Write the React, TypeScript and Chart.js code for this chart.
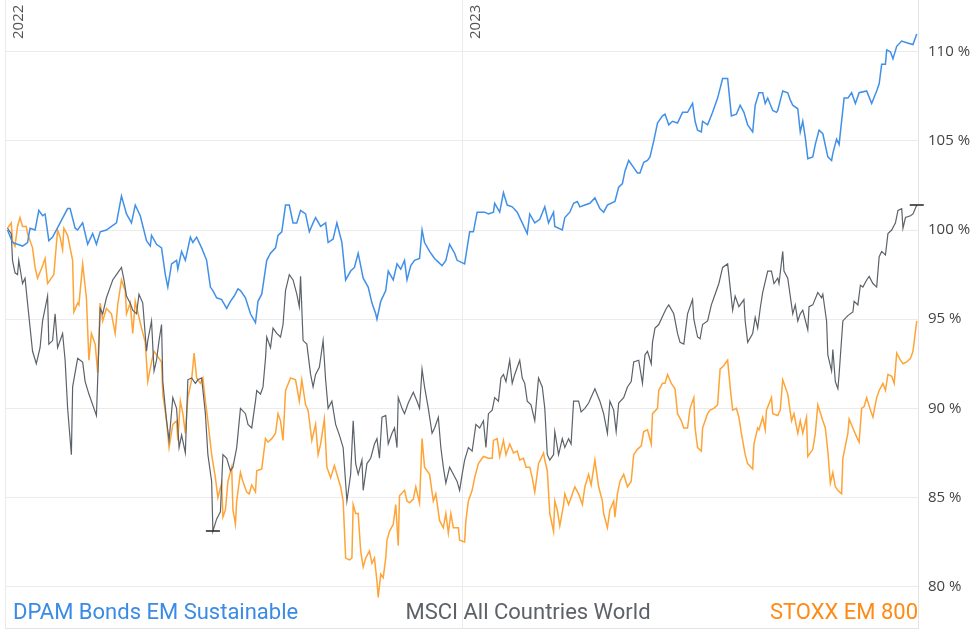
import React, { useEffect, useRef } from "react";
import { Chart, registerables } from "chart.js";

Chart.register(...registerables);

// x values are days counted from 1 January 2022
const yearTicks = [0, 365];
const yearLabels = ["2022", "2023"];
const xMax = 729;
const yMin = 77.68;
const yMax = 112.9;
const seriesNames = ["DPAM Bonds EM Sustainable", "MSCI All Countries World", "STOXX EM 800"];

const dpamDays = [
  2, 6, 10, 14, 18, 20, 24, 27, 30, 32,
  35, 38, 44, 50, 52, 56, 58, 62, 66, 70,
  73, 76, 81, 85, 89, 93, 97, 101, 104, 108,
  113, 116, 117, 121, 125, 128, 130, 133, 137, 138,
  141, 144, 148, 150, 153, 157, 161, 164, 166, 169,
  173, 177, 180, 183, 186, 188, 192, 196, 200, 202,
  205, 209, 212, 216, 218, 221, 224, 227, 230, 233,
  236, 240, 243, 246, 248, 252, 256, 258, 262, 265,
  269, 272, 276, 279, 282, 286, 290, 293, 296, 297,
  300, 304, 306, 310, 313, 316, 319, 321, 324, 327,
  331, 333, 335, 339, 343, 346, 349, 352, 355, 359,
  361, 367, 369, 371, 374, 377, 383, 386, 390, 391,
  395, 398, 401, 405, 409, 413, 417, 419, 423, 427,
  431, 434, 438, 439, 445, 447, 451, 454, 457, 459,
  463, 467, 471, 475, 478, 481, 487, 490, 493, 495,
  498, 501, 505, 507, 510, 513, 515, 518, 521, 525,
  527, 530, 533, 537, 541, 545, 549, 551, 553, 556,
  557, 561, 565, 569, 573, 577, 580, 584, 587, 590,
  593, 597, 599, 602, 605, 607, 609, 613, 616, 617,
  621, 625, 627, 629, 633, 635, 637, 639, 641, 645,
  647, 650, 653, 657, 660, 661, 664, 666, 670, 673,
  676, 679, 682, 688, 692, 696, 698, 700, 703, 704,
  707, 709, 712, 716, 720, 725, 728,
];
const dpamValues = [
  100.0, 99.3, 99.2, 99.1, 99.3, 100.1, 100.0, 101.1, 100.8, 100.9,
  99.4, 99.6, 100.4, 101.2, 101.2, 100.1, 100.0, 100.4, 99.2, 99.8,
  99.2, 99.9, 100.0, 100.2, 100.4, 101.9, 100.9, 100.4, 101.4, 100.8,
  99.4, 99.1, 99.7, 99.2, 99.0, 97.5, 96.8, 98.1, 98.3, 97.8,
  98.8, 98.3, 99.6, 99.3, 99.6, 99.0, 98.3, 96.8, 96.6, 96.2,
  96.1, 95.6, 96.0, 96.3, 96.7, 96.6, 96.2, 95.3, 94.8, 96.0,
  96.4, 98.3, 98.7, 99.0, 99.7, 99.9, 101.4, 101.4, 100.4, 100.4,
  101.1, 100.9, 99.9, 100.4, 100.7, 100.2, 100.4, 99.3, 99.5, 100.4,
  99.3, 97.2, 97.7, 97.9, 98.7, 97.3, 96.8, 95.9, 95.3, 95.0,
  96.0, 96.6, 97.7, 97.2, 98.1, 97.8, 98.3, 97.2, 98.0, 98.3,
  98.4, 100.0, 99.3, 98.8, 98.4, 98.2, 98.0, 98.3, 99.2, 98.7,
  98.3, 98.1, 99.0, 99.9, 99.9, 101.0, 101.0, 100.9, 101.0, 101.5,
  101.0, 102.1, 101.4, 101.3, 101.0, 100.4, 99.8, 100.9, 100.4, 100.6,
  101.3, 100.4, 101.0, 100.2, 100.0, 100.7, 101.0, 101.5, 101.6, 101.3,
  101.4, 101.5, 101.8, 101.2, 101.0, 101.4, 101.6, 102.4, 102.6, 103.3,
  103.9, 103.6, 103.2, 103.2, 103.8, 103.9, 104.1, 105.0, 106.0, 106.4,
  106.5, 105.9, 106.1, 106.0, 106.6, 106.6, 107.1, 106.1, 105.6, 105.5,
  106.1, 105.9, 106.6, 107.4, 108.5, 108.5, 106.4, 106.5, 107.0, 106.6,
  105.9, 105.5, 107.0, 107.7, 107.7, 107.1, 107.4, 106.7, 106.6, 106.7,
  107.8, 107.7, 107.3, 107.0, 106.8, 105.5, 106.1, 105.2, 104.0, 104.1,
  104.8, 105.6, 105.4, 104.1, 103.9, 104.3, 105.1, 104.8, 107.4, 107.4,
  107.7, 107.1, 107.7, 107.8, 107.1, 107.8, 108.2, 109.3, 109.3, 110.1,
  110.0, 109.6, 110.3, 110.6, 110.5, 110.4, 111.0,
];

const msciDays = [
  2, 5, 6, 8, 10, 11, 14, 16, 18, 22,
  25, 28, 30, 34, 35, 38, 40, 42, 46, 48,
  50, 53, 54, 58, 62, 64, 67, 71, 73, 76,
  78, 81, 84, 86, 89, 93, 95, 97, 100, 102,
  105, 107, 110, 113, 114, 117, 119, 121, 123, 125,
  126, 129, 131, 134, 137, 139, 141, 144, 146, 149,
  152, 154, 157, 160, 162, 165, 166, 169, 172, 174,
  177, 180, 182, 185, 188, 192, 194, 197, 200, 201,
  204, 206, 208, 209, 212, 214, 217, 220, 222, 224,
  227, 230, 233, 235, 236, 238, 241, 244, 246, 248,
  251, 254, 256, 258, 261, 264, 267, 270, 273, 276,
  278, 280, 282, 285, 286, 289, 292, 295, 297, 299,
  301, 304, 306, 309, 311, 313, 314, 317, 319, 322,
  326, 329, 331, 333, 335, 338, 341, 343, 346, 348,
  350, 352, 355, 358, 361, 363, 365, 367, 370, 373,
  376, 379, 382, 384, 386, 389, 391, 394, 396, 398,
  400, 403, 405, 407, 411, 413, 415, 417, 420, 423,
  426, 429, 431, 433, 435, 438, 439, 442, 445, 447,
  450, 452, 454, 458, 460, 463, 466, 471, 475, 478,
  481, 483, 486, 488, 490, 494, 497, 500, 502, 506,
  509, 511, 513, 516, 517, 519, 522, 526, 528, 530,
  534, 537, 539, 542, 545, 549, 550, 553, 555, 557,
  561, 564, 567, 570, 573, 577, 579, 581, 583, 586,
  590, 591, 593, 597, 599, 601, 603, 605, 609, 612,
  614, 617, 618, 621, 622, 625, 629, 631, 633, 635,
  637, 641, 642, 645, 649, 652, 653, 656, 657, 660,
  661, 663, 665, 666, 669, 673, 677, 678, 681, 683,
  685, 688, 690, 693, 696, 698, 700, 703, 705, 708,
  711, 713, 716, 717, 719, 723, 725, 728,
];
const msciValues = [
  100.1, 99.8, 98.3, 97.6, 97.5, 98.3, 97.0, 97.3, 95.9, 93.2,
  92.5, 93.4, 94.9, 96.3, 93.6, 93.8, 95.3, 93.4, 94.2, 92.7,
  90.0, 87.4, 91.2, 92.8, 92.6, 91.5, 90.8, 90.0, 89.6, 95.6,
  95.3, 96.2, 96.8, 97.2, 97.5, 97.9, 97.2, 96.3, 95.9, 95.5,
  95.3, 96.4, 95.9, 93.2, 93.8, 94.9, 92.1, 92.7, 93.8, 94.7,
  91.5, 89.3, 88.2, 90.6, 90.0, 87.8, 88.5, 87.5, 91.6, 91.7,
  91.4, 91.6, 91.7, 89.7, 87.4, 85.9, 83.1, 83.8, 84.2, 87.4,
  87.2, 86.5, 86.7, 87.8, 90.0, 89.7, 89.1, 88.9, 90.4, 91.0,
  90.8, 91.2, 92.8, 94.0, 93.4, 94.5, 94.2, 94.0, 94.7, 96.6,
  97.5, 97.2, 96.4, 95.7, 97.4, 93.8, 93.6, 91.9, 91.2, 91.9,
  92.3, 93.8, 91.6, 90.0, 90.4, 89.1, 88.5, 87.8, 84.8, 86.3,
  89.3, 86.9, 86.3, 87.1, 85.4, 86.9, 87.2, 88.0, 88.3, 87.2,
  89.5, 89.6, 88.0, 88.6, 88.9, 87.8, 90.6, 90.0, 89.7, 90.3,
  90.9, 90.4, 90.0, 92.2, 91.2, 90.0, 88.6, 88.9, 89.5, 87.8,
  86.7, 85.8, 86.7, 86.3, 85.9, 85.4, 86.3, 87.1, 87.8, 87.6,
  89.1, 88.9, 89.3, 87.8, 89.7, 89.9, 90.6, 90.4, 91.7, 91.9,
  91.5, 92.7, 91.4, 91.9, 92.7, 91.7, 91.4, 90.4, 90.2, 89.3,
  91.7, 91.2, 90.0, 87.4, 87.1, 87.4, 88.7, 87.4, 88.3, 87.8,
  88.3, 88.0, 90.4, 90.4, 89.8, 90.0, 90.3, 91.1, 90.4, 89.7,
  88.6, 90.4, 89.9, 88.7, 90.3, 90.6, 91.2, 91.5, 92.6, 92.7,
  91.4, 93.0, 93.2, 92.5, 93.7, 94.5, 94.7, 95.3, 95.6, 95.8,
  95.3, 94.2, 93.7, 93.6, 95.3, 96.1, 95.0, 94.0, 93.9, 94.7,
  94.9, 95.8, 96.4, 97.0, 97.9, 98.1, 96.8, 95.5, 96.3, 95.7,
  96.1, 94.9, 93.7, 94.2, 95.1, 94.5, 95.6, 96.5, 97.7, 97.7,
  97.0, 97.3, 97.0, 98.8, 97.7, 97.3, 95.3, 95.8, 94.9, 95.3,
  95.5, 94.4, 95.7, 95.8, 96.5, 96.2, 96.4, 94.9, 93.0, 92.1,
  93.3, 91.5, 91.1, 91.9, 94.9, 95.2, 95.4, 96.0, 95.8, 96.9,
  96.8, 97.2, 97.4, 97.0, 96.8, 98.5, 98.8, 98.6, 99.8, 100.0,
  100.4, 101.1, 101.2, 100.1, 100.7, 100.8, 100.9, 101.4,
];

const stoxxDays = [
  2, 5, 6, 8, 10, 12, 14, 17, 18, 22,
  24, 26, 30, 32, 34, 38, 39, 42, 44, 46,
  47, 50, 54, 55, 58, 59, 62, 65, 67, 69,
  72, 74, 76, 78, 81, 85, 88, 90, 93, 96,
  97, 100, 102, 104, 106, 109, 112, 114, 117, 119,
  122, 125, 126, 129, 131, 134, 137, 138, 140, 142,
  144, 146, 149, 151, 153, 156, 158, 160, 162, 165,
  168, 170, 173, 174, 176, 178, 181, 182, 184, 185,
  188, 190, 193, 195, 197, 200, 201, 205, 208, 210,
  213, 216, 218, 220, 222, 224, 228, 232, 235, 237,
  240, 242, 245, 248, 250, 252, 255, 257, 260, 263,
  265, 268, 270, 272, 275, 277, 278, 280, 282, 284,
  286, 288, 291, 293, 295, 297, 298, 300, 302, 304,
  305, 307, 310, 312, 314, 315, 319, 321, 323, 326,
  328, 331, 333, 335, 339, 342, 344, 347, 350, 352,
  354, 356, 358, 362, 363, 367, 368, 370, 373, 375,
  378, 382, 386, 389, 390, 393, 395, 398, 400, 403,
  406, 409, 411, 414, 416, 419, 421, 423, 426, 430,
  431, 433, 435, 438, 439, 441, 443, 446, 447, 450,
  453, 455, 458, 461, 463, 466, 468, 471, 474, 477,
  478, 481, 483, 486, 487, 489, 491, 494, 497, 500,
  502, 505, 508, 510, 513, 516, 517, 521, 522, 525,
  527, 529, 532, 535, 537, 540, 542, 545, 547, 550,
  551, 553, 556, 557, 561, 563, 566, 569, 571, 574,
  577, 579, 581, 584, 586, 588, 591, 593, 597, 598,
  601, 602, 605, 607, 608, 612, 613, 617, 619, 621,
  625, 628, 630, 633, 635, 637, 640, 641, 645, 647,
  649, 653, 655, 657, 659, 661, 663, 665, 668, 669,
  673, 674, 677, 680, 682, 684, 686, 688, 691, 693,
  696, 698, 701, 703, 705, 708, 710, 712, 715, 717,
  720, 723, 725, 728,
];
const stoxxValues = [
  100.1, 100.4, 99.4, 99.1, 100.2, 100.7, 100.2, 100.2, 99.8, 99.0,
  97.9, 97.3, 98.0, 98.4, 97.0, 97.4, 97.5, 100.0, 99.6, 98.9,
  100.1, 99.7, 98.3, 95.4, 95.9, 95.8, 98.1, 96.2, 92.7, 94.2,
  93.6, 92.0, 95.9, 94.9, 95.6, 95.3, 94.2, 95.8, 97.2, 96.6,
  95.3, 95.9, 94.2, 96.0, 95.4, 94.5, 93.7, 91.5, 92.6, 93.2,
  92.9, 92.6, 90.8, 89.3, 87.8, 89.1, 89.3, 88.2, 90.4, 89.7,
  88.6, 90.6, 91.6, 93.1, 91.7, 91.4, 91.7, 90.4, 89.3, 87.4,
  86.1, 85.0, 85.8, 83.9, 84.3, 85.9, 86.7, 84.3, 83.5, 84.8,
  86.4, 85.9, 85.3, 85.2, 85.7, 85.3, 86.5, 86.6, 88.3, 88.1,
  88.3, 88.6, 89.7, 89.3, 88.2, 91.0, 91.7, 91.6, 90.4, 91.6,
  90.2, 89.9, 88.2, 89.1, 87.4, 88.0, 89.4, 86.7, 86.1, 86.8,
  86.3, 85.6, 84.8, 81.6, 81.5, 81.6, 84.6, 84.1, 84.1, 82.0,
  81.1, 81.6, 82.0, 81.3, 81.6, 80.3, 79.4, 80.7, 80.5, 81.6,
  82.6, 83.1, 83.5, 84.6, 82.3, 85.1, 85.4, 84.8, 84.7, 84.9,
  85.6, 84.7, 88.3, 86.7, 86.3, 84.8, 85.2, 83.7, 83.3, 84.1,
  83.0, 84.1, 83.3, 83.3, 82.6, 82.5, 83.7, 84.8, 85.4, 86.1,
  86.9, 87.3, 87.2, 87.2, 88.2, 88.3, 87.3, 88.2, 87.4, 88.0,
  87.5, 87.6, 87.1, 87.2, 86.7, 86.7, 86.1, 85.3, 86.9, 87.5,
  87.1, 86.5, 84.1, 83.1, 84.8, 84.3, 83.4, 84.6, 85.2, 84.6,
  85.2, 85.6, 85.2, 84.6, 85.6, 86.3, 85.7, 87.1, 85.6, 84.8,
  84.1, 83.3, 84.3, 84.8, 83.9, 85.2, 85.9, 86.3, 85.6, 85.9,
  87.4, 87.7, 87.9, 88.7, 88.8, 88.0, 89.7, 90.0, 91.0, 91.4,
  91.4, 91.9, 91.4, 91.1, 89.7, 89.3, 88.9, 88.9, 90.0, 90.6,
  88.9, 87.8, 87.6, 88.9, 89.7, 89.9, 90.0, 90.2, 92.2, 92.4,
  92.7, 91.2, 89.9, 90.0, 89.5, 88.6, 87.4, 86.9, 86.6, 88.0,
  88.9, 88.8, 89.5, 88.8, 89.9, 90.6, 89.7, 89.6, 89.9, 91.6,
  90.8, 89.3, 89.7, 88.6, 89.3, 88.6, 89.5, 87.3, 87.7, 88.6,
  90.2, 89.3, 88.9, 87.6, 85.8, 86.4, 85.6, 85.4, 85.2, 87.2,
  88.6, 89.4, 88.9, 88.4, 88.1, 90.0, 90.1, 90.6, 89.9, 89.5,
  90.6, 91.0, 91.4, 91.0, 91.9, 91.8, 91.4, 93.1, 92.7, 92.5,
  92.6, 92.8, 93.2, 94.9,
];

const lineColors = ["#4190e8", "#5b6269", "#ffa436"];
const textColors = ["#3a8be6", "#5d6268", "#ff8a14"];

const toPoints = (days: number[], values: number[]) =>
  days.map((d, i) => ({ x: d, y: values[i] }));

const yearLabelPlugin = {
  id: "yearLabels",
  afterDraw(chart: any) {
    const xs = chart.scales.x;
    const ctx = chart.ctx;
    ctx.save();
    ctx.font = "15px 'Open Sans', sans-serif";
    ctx.fillStyle = "#555";
    ctx.textAlign = "left";
    ctx.textBaseline = "alphabetic";
    yearTicks.forEach((v, i) => {
      const px = xs.getPixelForValue(v);
      ctx.save();
      ctx.translate(px + 17.5, 39);
      ctx.rotate(-Math.PI / 2);
      ctx.fillText(yearLabels[i], 0, 0);
      ctx.restore();
    });
    ctx.restore();
  },
};

const minMaxPlugin = {
  id: "minMaxMarkers",
  afterDatasetsDraw(chart: any) {
    const xs = chart.scales.x;
    const ys = chart.scales.y;
    let minI = 0;
    let maxI = 0;
    msciValues.forEach((v, i) => {
      if (v < msciValues[minI]) minI = i;
      if (v > msciValues[maxI]) maxI = i;
    });
    const ctx = chart.ctx;
    ctx.save();
    ctx.strokeStyle = "#222";
    ctx.lineWidth = 1.5;
    [minI, maxI].forEach((i) => {
      const px = xs.getPixelForValue(msciDays[i]);
      const py = Math.round(ys.getPixelForValue(msciValues[i]));
      ctx.beginPath();
      ctx.moveTo(px - 7, py);
      ctx.lineTo(px + 7, py);
      ctx.stroke();
    });
    ctx.restore();
  },
};

const legendTextPlugin = {
  id: "legendText",
  afterDraw(chart: any) {
    const { left, right } = chart.chartArea;
    const ctx = chart.ctx;
    ctx.save();
    ctx.font = "22px Roboto, sans-serif";
    ctx.textBaseline = "alphabetic";
    const y = 619;
    ctx.fillStyle = textColors[0];
    ctx.textAlign = "left";
    ctx.fillText(seriesNames[0], left + 8, y);
    ctx.fillStyle = textColors[1];
    ctx.textAlign = "center";
    ctx.fillText(seriesNames[1], 528, y);
    ctx.fillStyle = textColors[2];
    ctx.textAlign = "right";
    ctx.fillText(seriesNames[2], right, y);
    ctx.restore();
  },
};

export default function App() {
  const canvasRef = useRef<HTMLCanvasElement | null>(null);

  useEffect(() => {
    if (!canvasRef.current) return;
    const chart = new Chart(canvasRef.current, {
      type: "line",
      data: {
        datasets: [
          {
            label: seriesNames[0],
            data: toPoints(dpamDays, dpamValues),
            borderColor: lineColors[0],
            borderWidth: 1.5,
            pointRadius: 0,
            tension: 0,
            fill: false,
          },
          {
            label: seriesNames[1],
            data: toPoints(msciDays, msciValues),
            borderColor: lineColors[1],
            borderWidth: 1.2,
            pointRadius: 0,
            tension: 0,
            fill: false,
          },
          {
            label: seriesNames[2],
            data: toPoints(stoxxDays, stoxxValues),
            borderColor: lineColors[2],
            borderWidth: 1.5,
            pointRadius: 0,
            tension: 0,
            fill: false,
          },
        ],
      },
      options: {
        animation: false,
        responsive: false,
        devicePixelRatio: 1,
        layout: { padding: { left: 5, top: 0, right: 0, bottom: 5 } },
        plugins: {
          legend: { display: false },
          tooltip: { enabled: false },
        },
        scales: {
          x: {
            type: "linear",
            position: "bottom",
            min: 0,
            max: xMax,
            afterBuildTicks(scale: any) {
              scale.ticks = yearTicks.map((v) => ({ value: v }));
            },
            afterFit(scale: any) {
              scale.height = 0;
              scale.paddingTop = 0;
              scale.paddingBottom = 0;
              scale.paddingLeft = 0;
              scale.paddingRight = 0;
            },
            ticks: { display: false },
            grid: { color: "#ebebeb", drawTicks: false },
            border: { display: true, color: "#e4e4e4" },
          },
          y: {
            type: "linear",
            position: "right",
            min: yMin,
            max: yMax,
            afterFit(scale: any) {
              scale.width = 53;
              scale.paddingTop = 0;
              scale.paddingBottom = 0;
            },
            ticks: {
              stepSize: 5,
              includeBounds: false,
              padding: 10,
              color: "#444",
              font: { family: "'Open Sans', sans-serif", size: 15 },
              callback: (v: any) => `${v} %`,
            },
            grid: { color: "#ebebeb", drawTicks: false },
            border: { display: true, color: "#e4e4e4" },
          },
        },
      },
      plugins: [yearLabelPlugin, minMaxPlugin, legendTextPlugin],
    } as any);
    return () => chart.destroy();
  }, []);

  return (
    <div style={{ position: "absolute", left: 0, top: 0, width: 971, height: 633, background: "#fff" }}>
      <canvas ref={canvasRef} width={971} height={633} style={{ width: 971, height: 633, display: "block" }} />
    </div>
  );
}
